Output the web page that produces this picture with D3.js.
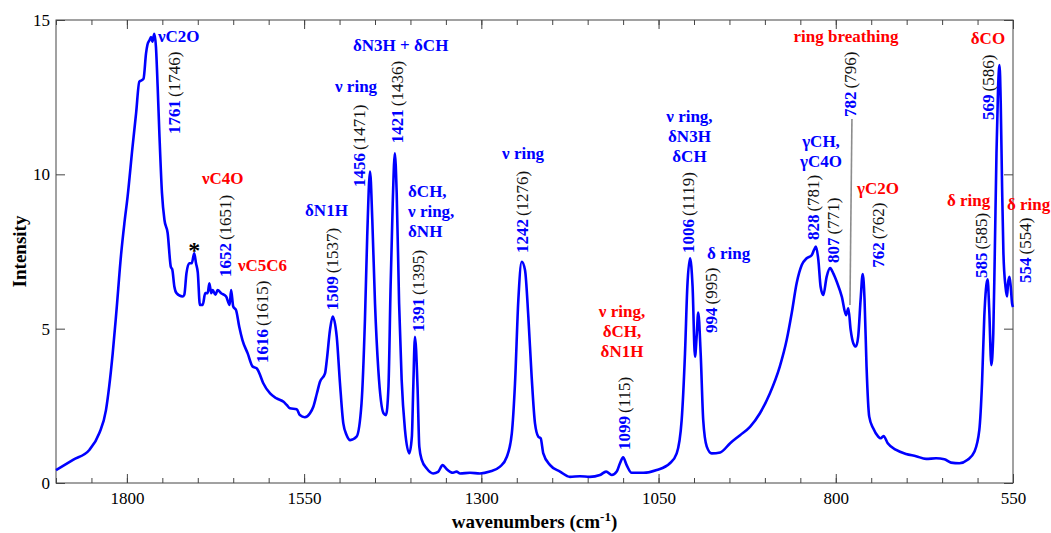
<!DOCTYPE html>
<html>
<head>
<meta charset="utf-8">
<script src="https://cdn.jsdelivr.net/npm/d3@7/dist/d3.min.js"></script>
<style>
  html, body { margin: 0; padding: 0; background: #fff; }
  svg { display: block; }
  text { font-family: "Liberation Serif", "Times New Roman", serif; }
</style>
</head>
<body>
<svg id="chart" width="1051" height="533"></svg>
<script>
// Raman spectrum: wavenumber (cm-1) and intensity samples
const wavenumber = [
  1900, 1876, 1853, 1839, 1829.5, 1825, 1820, 1815, 1808, 1803.6, 1799, 1792, 1787, 1782.5, 1779, 1776.5,
  1773, 1771, 1768, 1766, 1764, 1761.3, 1759, 1756.6, 1754, 1750.5, 1747, 1742.5, 1738, 1736, 1733, 1730,
  1721.5, 1719, 1716, 1712, 1708.5, 1705, 1702.5, 1700, 1697, 1693, 1689.5, 1686, 1683.7, 1681, 1679, 1675,
  1672, 1667, 1660, 1655, 1653, 1650, 1646, 1641.5, 1637, 1629.6, 1622.5, 1617, 1614, 1607.6, 1598, 1588.7,
  1579, 1574.6, 1570, 1560.5, 1556, 1549, 1541.7, 1537, 1532, 1527.6, 1520.5, 1518, 1513.5, 1509.7, 1504,
  1499.4, 1494.7, 1490, 1485, 1476, 1469, 1464.2, 1461, 1457, 1453.8, 1450, 1445.3, 1438, 1434.5, 1431,
  1428, 1425, 1422, 1419.4, 1416, 1412.4, 1407.7, 1401.6, 1398, 1396, 1393.6, 1390, 1387.5, 1384, 1377,
  1368, 1361, 1354.5, 1349, 1340, 1335, 1330, 1316, 1302, 1288, 1273.6, 1264, 1257, 1252.5, 1247.8, 1243,
  1238.4, 1233.7, 1229, 1224.3, 1219.6, 1216.3, 1212.6, 1203, 1189, 1175, 1161, 1147, 1132.6, 1124, 1116,
  1109, 1104.4, 1100, 1095, 1088, 1071.5, 1052.6, 1034, 1024.4, 1017.4, 1012.7, 1009.4, 1005.6, 1002, 998.6,
  996.3, 994, 990.6, 987, 982, 975, 963, 949, 935, 921, 907, 893, 879, 869.3, 862.2, 855.2, 848, 841, 834,
  830.7, 828, 824.6, 821.4, 817.6, 812.9, 808, 803.5, 798.6, 791.5, 785.5, 782.3, 779, 775.3, 771.6, 768.4,
  765, 762, 759.4, 756.6, 752.8, 747.2, 740, 736.6, 732.6, 726.7, 714.8, 700.8, 686.7, 672.6, 658.5, 646.8,
  637.4, 625.6, 614, 604.5, 597.5, 593.7, 590.5, 585.8, 583.5, 580.6, 577.8, 575.7, 573.3, 571, 569, 567.3,
  565.4, 563.5, 560.6, 558.4, 557, 555, 553.2, 551.3, 550
];
const intensity = [
  0.42, 0.75, 1.07, 1.61, 2.36, 3.12, 4.2, 5.5, 7.45, 8.4, 9.28, 10.9, 11.98, 13.0, 13.05, 13.1,
  13.92, 14.2, 14.35, 14.45, 14.3, 14.55, 14.13, 12.84, 11.22, 9.39, 8.52, 8.1, 7.0, 6.92, 6.36, 6.15,
  6.04, 6.1, 6.79, 7.12, 7.12, 7.44, 7.12, 6.82, 5.77, 5.77, 6.15, 6.15, 6.47, 6.15, 6.25, 6.1,
  6.25, 6.15, 6.04, 5.77, 6.25, 5.72, 5.6, 5.06, 4.63, 4.2, 3.77, 3.72, 3.6, 3.23, 2.9, 2.74,
  2.63, 2.53, 2.42, 2.39, 2.2, 2.13, 2.26, 2.47, 2.9, 3.28, 3.55, 3.98, 4.96, 5.39, 4.74,
  3.23, 1.93, 1.55, 1.39, 1.5, 2.58, 5.28, 7.98, 10.09, 8.52, 5.82, 3.66, 2.26, 2.2, 3.12,
  6.36, 9.06, 10.68, 9.39, 5.82, 3.34, 1.72, 0.96, 1.5, 3.12, 4.74, 3.12, 1.18, 0.75, 0.47,
  0.31, 0.36, 0.58, 0.45, 0.33, 0.37, 0.31, 0.33, 0.31, 0.37, 0.53, 0.85, 1.61, 3.23, 5.93, 7.17,
  6.9, 5.39, 3.44, 1.93, 1.5, 1.45, 0.96, 0.58, 0.37, 0.2, 0.22, 0.2, 0.26, 0.37, 0.26,
  0.37, 0.64, 0.83, 0.58, 0.33, 0.33, 0.42, 0.64, 0.96, 2.04, 4.2, 6.36, 7.28, 6.36, 4.09,
  4.74, 5.52, 4.2, 2.04, 1.18, 0.96, 0.99, 1.29, 1.55, 1.82, 2.26, 2.9, 3.77, 4.63, 5.5, 6.47, 7.06, 7.28, 7.38,
  7.55, 7.66, 7.23, 6.36, 6.09, 6.68, 6.96, 6.79, 6.52, 6.04, 5.44, 5.66, 4.96, 4.53, 4.42, 4.74,
  5.93, 6.77, 5.93, 3.77, 2.15, 1.77, 1.5, 1.45, 1.52, 1.29, 1.07, 0.94, 0.87, 0.78, 0.8, 0.77,
  0.66, 0.64, 0.75, 1.01, 1.72, 3.23, 5.39, 6.6, 5.6, 3.82, 4.85, 7.44, 10.68, 12.84, 13.54, 12.3,
  9.6, 7.44, 6.36, 6.04, 6.47, 6.68, 6.36, 5.82, 5.7
];

// Axis ticks
const xMajorTicks = [1800, 1550, 1300, 1050, 800, 550];
const xMinorTicks = d3.range(1900, 549, -50);
const yMajorTicks = [0, 5, 10, 15];

// Band labels: measured (bold) and calculated (in parentheses) wavenumbers,
// anchored in data units at the foot of each vertical label
const peakNumbers  = ["1761", "1652", "1616", "1509", "1456", "1421", "1391", "1242", "1099", "1006", "994", "828", "807", "782", "762", "569", "585", "554"];
const peakCalc     = ["(1746)", "(1651)", "(1615)", "(1537)", "(1471)", "(1436)", "(1395)", "(1276)", "(115)", "(1119)", "(995)", "(781)", "(771)", "(796)", "(762)", "(586)", "(585)", "(554)"];
const peakLabelW   = [1725, 1653.1, 1600.9, 1502.2, 1464.1, 1410.5, 1380.9, 1234.2, 1090.3, 1000, 967.6, 823.7, 795.5, 771.5, 732, 576.8, 586.7, 524.6];
const peakLabelI   = [11.31, 6.67, 3.89, 5.60, 9.59, 11.01, 4.89, 7.45, 1.07, 7.45, 4.86, 7.87, 7.13, 11.86, 6.97, 11.76, 6.64, 6.48];

// Vibrational mode assignments
const modeLines  = [["νC2O"], ["νC4O"], ["νC5C6"], ["δN1H"], ["ν ring"], ["δN3H + δCH"], ["δCH,", "ν ring,", "δNH"],
                    ["ν ring"], ["ν ring,", "δCH,", "δN1H"], ["ν ring,", "δN3H", "δCH"], ["δ ring"], ["γCH,", "γC4O"],
                    ["ring breathing"], ["γC2O"], ["δCO"], ["δ ring"], ["δ ring"]];
const modeColor  = ["blue", "red", "red", "blue", "blue", "blue", "blue",
                    "blue", "red", "blue", "blue", "blue",
                    "red", "red", "red", "red", "red"];
const modeAnchor = ["start", "start", "start", "start", "start", "start", "start",
                    "start", "middle", "middle", "start", "middle",
                    "middle", "start", "middle", "start", "start"];
const modeW = [1756.1, 1694.1, 1643.3, 1548.7, 1506.4, 1481.0, 1403.4, 1270.8, 1101.6, 1006.4, 981.7, 820.8, 785.6, 770.1, 585.3, 643.1, 558.5];
const modeI = [14.29, 9.69, 6.87, 8.65, 12.67, 14.0, 9.27, 10.5, 5.38, 11.70, 7.26, 10.89, 14.29, 9.36, 14.22, 8.97, 8.84];

// Leader from the 782 label down to its band, and the marker for the 1705 feature
const leaderW = [777.2, 780];
const leaderI = [11.79, 5.77];
const starW = 1705, starI = 7.3;

const colors = { blue: "#0000ff", red: "#ff0000" };

const svg = d3.select("#chart");
const margin = { left: 56, right: 38, top: 20, bottom: 50 };
const W = 1051, H = 533;

const x = d3.scaleLinear().domain([1900, 550]).range([margin.left, W - margin.right]);
const y = d3.scaleLinear().domain([0, 15]).range([H - margin.bottom, margin.top]);

const x0 = x.range()[0], x1 = x.range()[1];
const y0 = y.range()[0], y1 = y.range()[1];

// Tick marks point into the plot on all four sides
function styleAxis(g) {
  g.select(".domain").remove();
  g.selectAll("line").attr("stroke", "#444");
  g.selectAll("text").attr("font-size", 17).attr("fill", "#000")
    .style("font-family", '"Liberation Serif", "Times New Roman", serif');
}
svg.append("g").attr("transform", `translate(0,${y0})`)
  .call(d3.axisBottom(x).tickValues(xMinorTicks).tickSizeInner(-5).tickSizeOuter(0).tickFormat(""))
  .call(styleAxis);
svg.append("g").attr("transform", `translate(0,${y0})`)
  .call(d3.axisBottom(x).tickValues(xMajorTicks).tickSizeInner(-9).tickSizeOuter(0).tickPadding(9).tickFormat(d3.format("d")))
  .call(styleAxis);
svg.append("g").attr("transform", `translate(0,${y1})`)
  .call(d3.axisTop(x).tickValues(xMinorTicks).tickSizeInner(-5).tickSizeOuter(0).tickFormat(""))
  .call(styleAxis);
svg.append("g").attr("transform", `translate(0,${y1})`)
  .call(d3.axisTop(x).tickValues(xMajorTicks).tickSizeInner(-9).tickSizeOuter(0).tickFormat(""))
  .call(styleAxis);
svg.append("g").attr("transform", `translate(${x0},0)`)
  .call(d3.axisLeft(y).tickValues(yMajorTicks).tickSizeInner(-9).tickSizeOuter(0).tickPadding(6).tickFormat(d3.format("d")))
  .call(styleAxis);
svg.append("g").attr("transform", `translate(${x1},0)`)
  .call(d3.axisRight(y).tickValues(yMajorTicks).tickSizeInner(-9).tickSizeOuter(0).tickFormat(""))
  .call(styleAxis);

// Plot frame
svg.append("rect")
  .attr("x", x0).attr("y", y1).attr("width", x1 - x0).attr("height", y0 - y1)
  .attr("fill", "none").attr("stroke", "#444").attr("stroke-width", 1);

// Spectrum
const points = wavenumber.map((w, i) => [w, intensity[i]]);
svg.append("path")
  .datum(points)
  .attr("fill", "none")
  .attr("stroke", "#0000ff")
  .attr("stroke-width", 2.6)
  .attr("stroke-linejoin", "round")
  .attr("d", d3.line().x(d => x(d[0])).y(d => y(d[1])).curve(d3.curveMonotoneX));

// Leader line
svg.append("line")
  .attr("x1", x(leaderW[0])).attr("y1", y(leaderI[0]))
  .attr("x2", x(leaderW[1])).attr("y2", y(leaderI[1]))
  .attr("stroke", "#8c8c8c").attr("stroke-width", 1.6);

// Vertical band labels
peakNumbers.forEach((num, i) => {
  const t = svg.append("text")
    .attr("transform", `translate(${x(peakLabelW[i])},${y(peakLabelI[i])}) rotate(-90)`)
    .attr("font-size", 17);
  t.append("tspan").attr("font-weight", "bold").attr("fill", colors.blue).text(num);
  t.append("tspan").attr("dx", 3).attr("fill", "#111").text(peakCalc[i]);
});

// Mode assignments
modeLines.forEach((lines, i) => {
  const t = svg.append("text")
    .attr("x", x(modeW[i])).attr("y", y(modeI[i]))
    .attr("font-size", 17).attr("font-weight", "bold")
    .attr("text-anchor", modeAnchor[i])
    .attr("fill", colors[modeColor[i]]);
  lines.forEach((line, k) => {
    t.append("tspan").attr("x", x(modeW[i])).attr("dy", k === 0 ? 0 : 20).text(line);
  });
});

// Asterisk
svg.append("text")
  .attr("x", x(starW)).attr("y", y(starI))
  .attr("text-anchor", "middle").attr("font-size", 24).attr("font-weight", "bold")
  .attr("fill", "#000").text("*");

// Axis titles
const xt = svg.append("text")
  .attr("x", (x0 + x1) / 2).attr("y", 528)
  .attr("text-anchor", "middle").attr("font-size", 19).attr("font-weight", "bold").attr("fill", "#000");
xt.append("tspan").text("wavenumbers (cm");
xt.append("tspan").attr("font-size", 13).attr("dy", -7).text("-1");
xt.append("tspan").attr("dy", 7).text(")");

svg.append("text")
  .attr("transform", `translate(26,${(y0 + y1) / 2}) rotate(-90)`)
  .attr("text-anchor", "middle").attr("font-size", 19).attr("font-weight", "bold").attr("fill", "#000")
  .text("Intensity");
</script>
</body>
</html>
